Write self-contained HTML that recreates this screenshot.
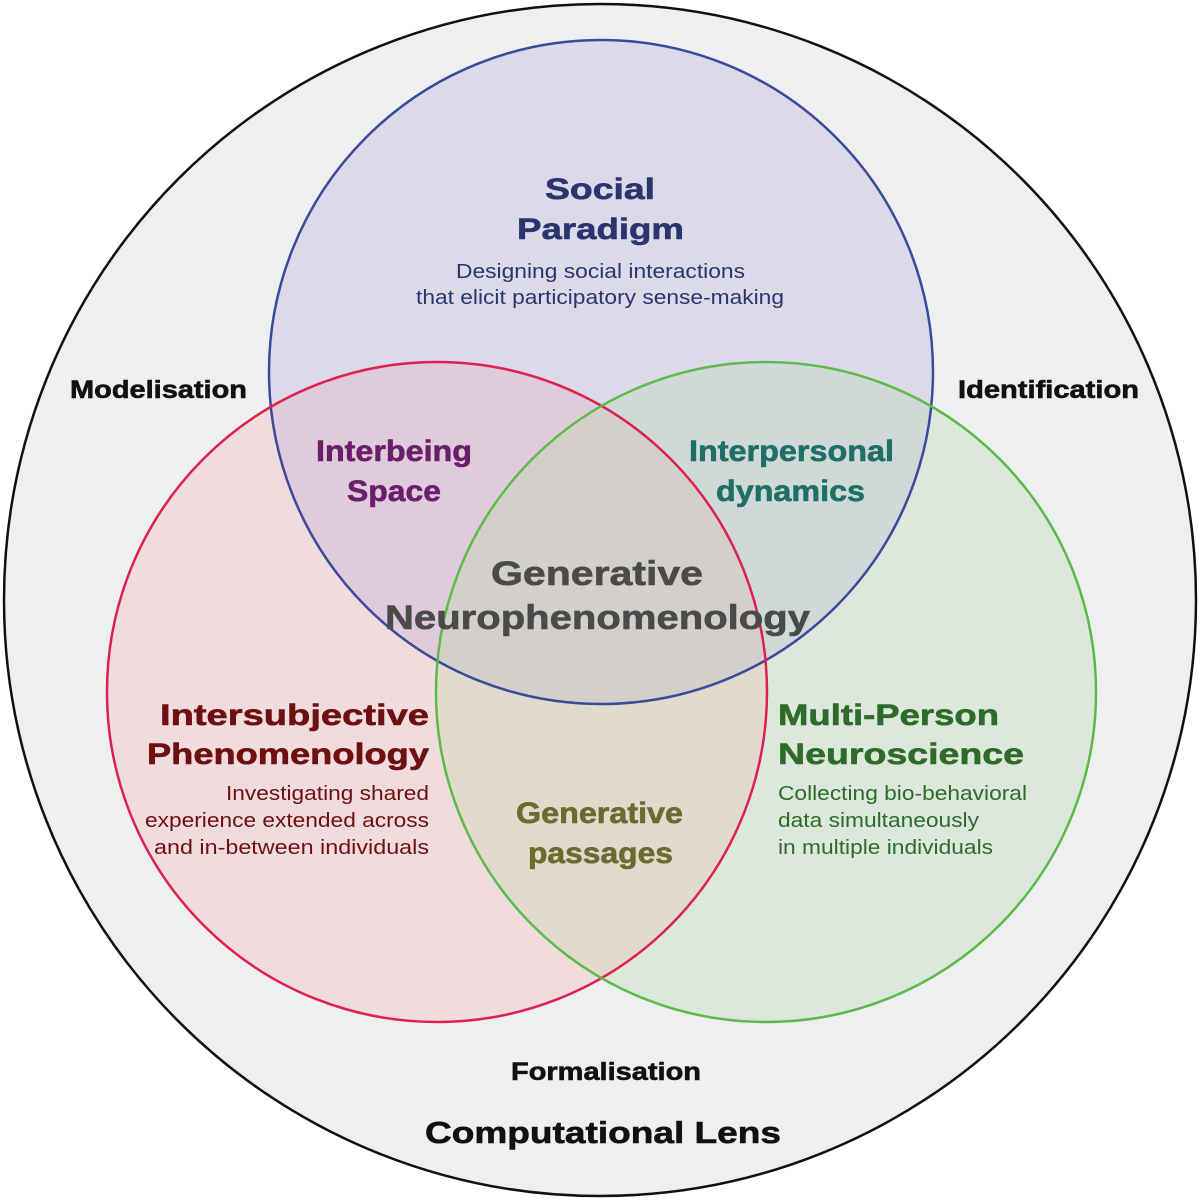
<!DOCTYPE html>
<html><head><style>
html,body{margin:0;padding:0;background:#fff}
svg{display:block}
text{font-family:"Liberation Sans",Arial,sans-serif}
.b{font-weight:bold;stroke-width:0.6px}
</style></head><body>
<svg width="1200" height="1200" viewBox="0 0 1200 1200">
<defs>
<clipPath id="cb"><circle cx="601" cy="372" r="332"/></clipPath>
<clipPath id="cr"><circle cx="437" cy="692" r="330"/></clipPath>
<clipPath id="cg"><circle cx="766" cy="692" r="330"/></clipPath>
</defs>
<circle cx="600" cy="600" r="596" fill="#eeeff1" stroke="#111" stroke-width="2.5"/>
<circle cx="601" cy="372" r="332" fill="#dcdae8"/>
<circle cx="437" cy="692" r="330" fill="#f0dcdc"/>
<circle cx="766" cy="692" r="330" fill="#dde8dc"/>
<g clip-path="url(#cb)"><circle cx="437" cy="692" r="330" fill="#dfcbdb"/><circle cx="766" cy="692" r="330" fill="#ced9d8"/></g>
<g clip-path="url(#cr)"><circle cx="766" cy="692" r="330" fill="#e1dacd"/></g>
<g clip-path="url(#cr)"><g clip-path="url(#cg)"><circle cx="601" cy="372" r="332" fill="#d3d0cc"/></g></g>
<circle cx="601" cy="372" r="332" fill="none" stroke="#3a4a9a" stroke-width="2.5"/>
<circle cx="437" cy="692" r="330" fill="none" stroke="#de2050" stroke-width="2.5"/>
<circle cx="766" cy="692" r="330" fill="none" stroke="#5cba48" stroke-width="2.5"/>

<g lengthAdjust="spacingAndGlyphs">
<text class="b" x="545" y="199" font-size="30" fill="#2a3570" stroke="#2a3570" textLength="110" lengthAdjust="spacingAndGlyphs">Social</text>
<text class="b" x="517" y="239" font-size="30" fill="#2a3570" stroke="#2a3570" textLength="167" lengthAdjust="spacingAndGlyphs">Paradigm</text>
<text x="456" y="278" font-size="20" fill="#2a3570" textLength="289" lengthAdjust="spacingAndGlyphs">Designing social interactions</text>
<text x="416" y="304" font-size="20" fill="#2a3570" textLength="368" lengthAdjust="spacingAndGlyphs">that elicit participatory sense-making</text>
<text class="b" x="316" y="461" font-size="30" fill="#6a1f6a" stroke="#6a1f6a" textLength="156" lengthAdjust="spacingAndGlyphs">Interbeing</text>
<text class="b" x="347" y="501" font-size="30" fill="#6a1f6a" stroke="#6a1f6a" textLength="94" lengthAdjust="spacingAndGlyphs">Space</text>
<text class="b" x="689" y="461" font-size="30" fill="#1f6f68" stroke="#1f6f68" textLength="205" lengthAdjust="spacingAndGlyphs">Interpersonal</text>
<text class="b" x="716" y="501" font-size="30" fill="#1f6f68" stroke="#1f6f68" textLength="149" lengthAdjust="spacingAndGlyphs">dynamics</text>
<text class="b" x="491" y="585" font-size="34" fill="#4a4a4a" stroke="#4a4a4a" textLength="212" lengthAdjust="spacingAndGlyphs">Generative</text>
<text class="b" x="385" y="629" font-size="34" fill="#4a4a4a" stroke="#4a4a4a" textLength="425" lengthAdjust="spacingAndGlyphs">Neurophenomenology</text>
<text class="b" x="516" y="823" font-size="30" fill="#6b6a30" stroke="#6b6a30" textLength="167" lengthAdjust="spacingAndGlyphs">Generative</text>
<text class="b" x="528" y="863" font-size="30" fill="#6b6a30" stroke="#6b6a30" textLength="145" lengthAdjust="spacingAndGlyphs">passages</text>
<text class="b" x="70" y="398" font-size="25" fill="#111" stroke="#111" textLength="177" lengthAdjust="spacingAndGlyphs">Modelisation</text>
<text class="b" x="958" y="398" font-size="25" fill="#111" stroke="#111" textLength="181" lengthAdjust="spacingAndGlyphs">Identification</text>
<text class="b" x="511" y="1080" font-size="25" fill="#111" stroke="#111" textLength="190" lengthAdjust="spacingAndGlyphs">Formalisation</text>
<text class="b" x="425" y="1143" font-size="31" fill="#111" stroke="#111" textLength="356" lengthAdjust="spacingAndGlyphs">Computational Lens</text>
<text class="b" x="160" y="725" font-size="30" fill="#6e0f12" stroke="#6e0f12" textLength="269" lengthAdjust="spacingAndGlyphs">Intersubjective</text>
<text class="b" x="147" y="764" font-size="30" fill="#6e0f12" stroke="#6e0f12" textLength="282" lengthAdjust="spacingAndGlyphs">Phenomenology</text>
<text x="226" y="800" font-size="20" fill="#6e0f12" textLength="203" lengthAdjust="spacingAndGlyphs">Investigating shared</text>
<text x="145" y="827" font-size="20" fill="#6e0f12" textLength="284" lengthAdjust="spacingAndGlyphs">experience extended across</text>
<text x="154" y="854" font-size="20" fill="#6e0f12" textLength="275" lengthAdjust="spacingAndGlyphs">and in-between individuals</text>
<text class="b" x="778" y="725" font-size="30" fill="#2e6a2a" stroke="#2e6a2a" textLength="221" lengthAdjust="spacingAndGlyphs">Multi-Person</text>
<text class="b" x="778" y="764" font-size="30" fill="#2e6a2a" stroke="#2e6a2a" textLength="246" lengthAdjust="spacingAndGlyphs">Neuroscience</text>
<text x="778" y="800" font-size="20" fill="#2e6a2a" textLength="249" lengthAdjust="spacingAndGlyphs">Collecting bio-behavioral</text>
<text x="778" y="827" font-size="20" fill="#2e6a2a" textLength="201" lengthAdjust="spacingAndGlyphs">data simultaneously</text>
<text x="778" y="854" font-size="20" fill="#2e6a2a" textLength="215" lengthAdjust="spacingAndGlyphs">in multiple individuals</text>
</g>
</svg>
</body></html>
